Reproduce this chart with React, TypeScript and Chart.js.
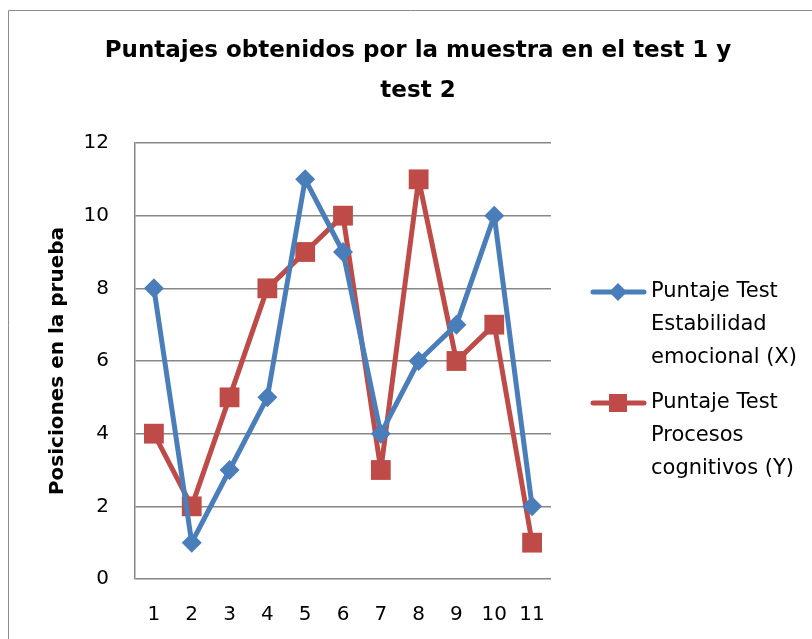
import React, { useEffect, useRef } from "react";
import { Chart, registerables } from "chart.js";

Chart.register(...registerables);

const categories = ["1", "2", "3", "4", "5", "6", "7", "8", "9", "10", "11"];
const seriesX = [8, 1, 3, 5, 11, 9, 4, 6, 7, 10, 2];
const seriesY = [4, 2, 5, 8, 9, 10, 3, 11, 6, 7, 1];
const seriesXLabel = ["Puntaje Test", "Estabilidad", "emocional (X)"];
const seriesYLabel = ["Puntaje Test", "Procesos", "cognitivos (Y)"];
const titleLines = ["Puntajes obtenidos por la muestra en el test 1 y", "test 2"];
const yAxisTitle = "Posiciones en la prueba";

const BLUE = "#4A7EBB";
const RED = "#BE4B48";
const GRID = "#878787";
const FONT = "'DejaVu Sans', sans-serif";

const decorPlugin = {
  id: "decor",
  beforeDraw(chart: any) {
    const ctx = chart.ctx;
    ctx.save();
    ctx.fillStyle = "#ffffff";
    ctx.fillRect(0, 0, chart.width, chart.height);
    ctx.strokeStyle = "#8c8c8c";
    ctx.lineWidth = 1;
    ctx.beginPath();
    ctx.moveTo(8.5, chart.height + 5);
    ctx.lineTo(8.5, 10.5);
    ctx.lineTo(chart.width + 5, 10.5);
    ctx.stroke();
    ctx.restore();
  },
  afterDraw(chart: any) {
    const ctx = chart.ctx;
    ctx.save();
    // title
    ctx.fillStyle = "#000";
    ctx.textAlign = "center";
    ctx.textBaseline = "middle";
    ctx.font = `bold 23px ${FONT}`;
    ctx.fillText(titleLines[0], 418, 51);
    ctx.fillText(titleLines[1], 418, 91);
    // legend
    const items = [
      { ds: chart.data.datasets[0], lines: seriesXLabel, y: 292 },
      { ds: chart.data.datasets[1], lines: seriesYLabel, y: 403 },
    ];
    items.forEach((it) => {
      const ds = it.ds;
      ctx.strokeStyle = ds.borderColor;
      ctx.lineWidth = 5;
      ctx.lineCap = "round";
      ctx.beginPath();
      ctx.moveTo(593, it.y);
      ctx.lineTo(644, it.y);
      ctx.stroke();
      ctx.fillStyle = ds.pointBackgroundColor;
      ctx.beginPath();
      if (ds.pointStyle === "rectRot") {
        const r = 9;
        ctx.moveTo(618, it.y - r);
        ctx.lineTo(618 + r, it.y);
        ctx.lineTo(618, it.y + r);
        ctx.lineTo(618 - r, it.y);
        ctx.closePath();
      } else {
        ctx.rect(618 - 9, it.y - 9, 18, 18);
      }
      ctx.fill();
      ctx.fillStyle = "#000";
      ctx.textAlign = "left";
      ctx.textBaseline = "middle";
      ctx.font = `21px ${FONT}`;
      it.lines.forEach((t, i) => ctx.fillText(t, 651, it.y + i * 33));
    });
    ctx.restore();
  },
};

export default function App() {
  const ref = useRef<HTMLCanvasElement | null>(null);
  useEffect(() => {
    if (!ref.current) return;
    const chart = new Chart(ref.current, {
      type: "line",
      data: {
        labels: categories,
        datasets: [
          {
            label: seriesXLabel.join(" "),
            data: seriesX,
            borderColor: BLUE,
            backgroundColor: BLUE,
            pointBackgroundColor: BLUE,
            pointBorderColor: BLUE,
            borderWidth: 5,
            borderJoinStyle: "round",
            pointStyle: "rectRot",
            pointRadius: 10,
            pointBorderWidth: 0,
            tension: 0,
          },
          {
            label: seriesYLabel.join(" "),
            data: seriesY,
            borderColor: RED,
            backgroundColor: RED,
            pointBackgroundColor: RED,
            pointBorderColor: RED,
            borderWidth: 5,
            borderJoinStyle: "round",
            pointStyle: "rect",
            pointRadius: 14,
            pointBorderWidth: 0,
            tension: 0,
          },
        ],
      },
      options: {
        responsive: false,
        animation: false,
        layout: { padding: { left: 0, right: 261, top: 143, bottom: 10 } },
        plugins: {
          legend: { display: false },
          title: { display: false },
          tooltip: { enabled: false },
        },
        scales: {
          x: {
            offset: true,
            grid: { display: false, drawTicks: false },
            border: { display: false },
            ticks: {
              color: "#000",
              padding: 24,
              font: { family: FONT, size: 20 },
            },
            afterFit: (s: any) => {
              s.height = 50;
            },
          },
          y: {
            min: 0,
            max: 12,
            ticks: {
              stepSize: 2,
              color: "#000",
              padding: 26,
              font: { family: FONT, size: 20 },
            },
            grid: { color: GRID, lineWidth: 1.5, drawTicks: false },
            border: { display: true, color: GRID, width: 1.5 },
            title: {
              display: true,
              text: yAxisTitle,
              color: "#000",
              font: { family: FONT, size: 20, weight: "bold" },
              padding: { top: 46, bottom: 0 },
            },
            afterFit: (s: any) => {
              s.width = 135;
            },
          },
        },
      },
      plugins: [decorPlugin],
    });
    return () => chart.destroy();
  }, []);
  return (
    <div style={{ position: "fixed", left: 0, top: 0, width: 812, height: 639 }}>
      <canvas ref={ref} width={812} height={639} />
    </div>
  );
}
